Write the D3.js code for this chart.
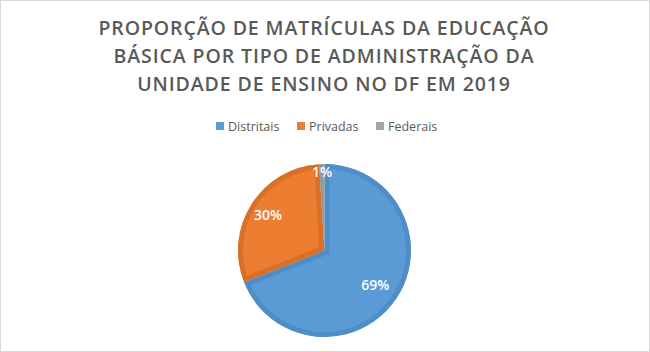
<!DOCTYPE html>
<html><head><meta charset="utf-8">
<script src="https://cdn.jsdelivr.net/npm/d3@7"></script>
<style>body{margin:0;background:#fff;}svg{display:block;}</style>
</head><body>
<script>
const categories = ["Distritais", "Privadas", "Federais"];
const values = [69, 30, 1];
const labels = ["69%", "30%", "1%"];
const titleLines = ["PROPORÇÃO DE MATRÍCULAS DA EDUCAÇÃO", "BÁSICA POR TIPO DE ADMINISTRAÇÃO DA", "UNIDADE DE ENSINO NO DF EM 2019"];

const W = 650, H = 352;
const fills = ["#5B9BD5", "#ED7D31", "#A5A5A5"];
const strokes = ["#4F8DC7", "#D8702A", "#999999"];
const labelRadiusFactor = [0.69, 0.75, 0.88];

const svg = d3.select("body").append("svg").attr("width", W).attr("height", H);
svg.append("rect").attr("x", 0.5).attr("y", 0.5).attr("width", W - 1).attr("height", H - 1)
  .attr("fill", "#fff").attr("stroke", "#D9D9D9");

svg.append("g").selectAll("text").data(titleLines).join("text")
  .attr("x", W / 2 - 1).attr("y", (d, i) => 35 + i * 28)
  .attr("text-anchor", "middle")
  .attr("font-family", "'Open Sans', sans-serif").attr("font-weight", 600)
  .attr("font-size", 19.5).attr("letter-spacing", 0.9)
  .attr("fill", "#595959").text(d => d);

// legend
const legend = svg.append("g").attr("font-family", "'Open Sans', sans-serif").attr("font-size", 12.5).attr("fill", "#595959");
const legX = [216, 297, 376];
categories.forEach((c, i) => {
  legend.append("rect").attr("x", legX[i]).attr("y", 122).attr("width", 8).attr("height", 8).attr("fill", fills[i]);
  legend.append("text").attr("x", legX[i] + 12).attr("y", 131).text(c);
});

const cx = 324.5, cy = 250.5, R = 89;
const pie = d3.pie().sort(null).value(d => d);
const sw = 5;
const arc = d3.arc().innerRadius(0).outerRadius(R - sw / 2);
const g = svg.append("g").attr("transform", `translate(${cx},${cy})`);
const arcs = pie(values);
arcs.forEach((a, i) => {
  const cp = "clip" + i;
  g.append("clipPath").attr("id", cp).append("path").attr("d", arc(a));
  g.append("path").attr("d", arc(a)).attr("fill", fills[i])
    .attr("stroke", strokes[i]).attr("stroke-width", sw * 2).attr("stroke-linejoin", "miter")
    .attr("clip-path", `url(#${cp})`);
});
g.selectAll("text.lab").data(arcs).join("text").attr("class", "lab")
  .attr("transform", (d, i) => {
    const r = R * labelRadiusFactor[i];
    return `translate(${d3.arc().innerRadius(r).outerRadius(r).centroid(d)})`;
  })
  .attr("text-anchor", "middle").attr("dy", "0.35em")
  .attr("font-family", "'Open Sans', sans-serif").attr("font-weight", 600).attr("font-size", 14)
  .attr("fill", "#fff").text((d, i) => labels[i]);
</script>
</body></html>
